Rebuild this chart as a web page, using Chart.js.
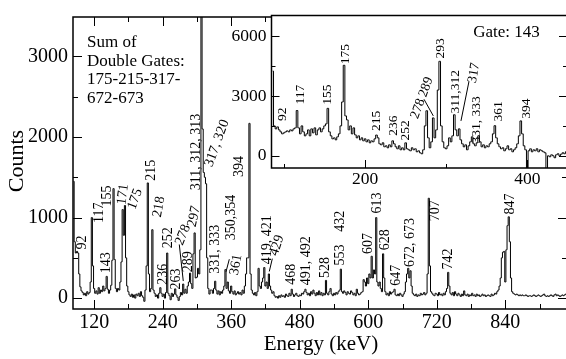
<!DOCTYPE html>
<html>
<head>
<meta charset="utf-8">
<script src="https://cdn.jsdelivr.net/npm/chart.js@4.4.0/dist/chart.umd.min.js"></script>
<style>
html, body { margin: 0; padding: 0; background: #fff; overflow: hidden; width: 566px; height: 359px; }
#wrap { position: relative; width: 572px; height: 359px; }
#mainChart { position: absolute; left: 0; top: 0; }
#insetChart { position: absolute; left: 220px; top: 0; }
</style>
</head>
<body>
<div id="wrap">
  <canvas id="mainChart" width="572" height="359"></canvas>
  <canvas id="insetChart" width="352" height="190"></canvas>
</div>
<script>
var FONT = '"Liberation Serif", "Times New Roman", serif';

// main spectrum: sum of double gates, 2 keV bins starting at 84 keV
var mainStart = 84, mainBin = 2;
var mainCounts = [
  1450, 700, 560, 580, 560, 300, 140, 90, 70, 40,
  60, 30, 80, 50, 70, 200, 1000, 400, 120, 60,
  90, 50, 130, 60, 100, 80, 150, 90, 120, 270,
  110, 60, 100, 160, 470, 1360, 480, 120, 80, 120,
  100, 200, 450, 1100, 780, 1150, 500, 150, 80, 40,
  20, 50, 10, 40, 0, 50, 30, 60, 20, 80,
  30, 10, -40, 100, 400, 1430, 300, 80, 120, 850,
  100, 60, 20, 40, 0, 60, 130, 60, 20, 50,
  0, 70, 560, 60, 30, -20, 60, 20, 50, 115,
  40, 10, -30, 20, 70, 40, 175, 60, 110, 60,
  150, 200, 310, 180, 120, 550, 810, 250, 260, 370,
  300, 600, 4200, 2100, 1560, 1500, 1420, 500, 120, 50,
  100, 100, 60, 120, 210, 100, 50, 90, 40, 80,
  60, 100, 150, 355, 120, 200, 90, 60, 150, 80,
  50, 90, 40, 60, 80, 50, 70, 40, 100, 60,
  150, 300, 500, 500, 2170, 300, 100, 60, 40, 70,
  30, 80, 370, 150, 120, 200, 250, 380, 150, 200,
  120, 300, 150, 100, 60, 80, 30, 10, 20, 0,
  30, 10, 40, 20, 30, 10, 50, 30, 20, 60,
  30, 110, 50, 20, 40, 60, 30, 20, 40, 30,
  60, 50, 80, 110, 70, 40, 60, 30, 80, 50,
  100, 60, 30, 70, 40, 90, 40, 70, 30, 60,
  40, 220, 60, 40, 80, 120, 50, 30, 60, 40,
  70, 50, 80, 100, 360, 80, 60, 90, 70, 40,
  80, 60, 50, 90, 70, 40, 60, 30, 110, 60,
  40, 50, 70, 80, 230, 200, 150, 250, 180, 300,
  250, 520, 250, 350, 300, 1000, 200, 150, 200, 120,
  80, 550, 250, 80, 40, 60, 30, 80, 50, 70,
  80, 110, 40, 30, 50, 30, 60, 40, 20, 50,
  80, 200, 300, 370, 250, 340, 150, 60, 40, 30,
  50, 20, 40, 30, 60, 40, 50, 70, 40, 60,
  300, 1240, 400, 80, 60, 40, 30, 60, 50, 30,
  70, 40, 50, 30, 60, 40, 80, 120, 320, 150,
  60, 40, 70, 30, 80, 50, 30, 60, 40, 20,
  50, 30, 90, 40, 30, 50, 20, 40, 30, 60,
  30, 40, 20, 50, 30, 40, 20, 30, 50, 30,
  40, 20, 30, 40, 30, 20, 50, 30, 40, 60,
  50, 80, 100, 150, 250, 500, 570, 580, 200, 600,
  900, 1010, 700, 250, 80, 60, 50, 40, 50, 40,
  30, 40, 30, 40, 30, 30, 40, 30, 20, 30,
  30, 20, 30, 40, 30, 20, 30, 40, 30, 20,
  30, 40, 50, 30, 20, 30, 20, 30, 40, 30,
  20, 40, 50, 30, 40, 30, 20, 30, 40, 30,
  40, 50, 40
];

// inset spectrum: gate on 143 keV, 2 keV bins starting at 86 keV
var insetStart = 86, insetBin = 2;
var insetCounts = [
  4250, 1500, 1350, 1450, 1300, 1200, 1100, 1150, 1200, 1250,
  1200, 1300, 1250, 1350, 1400, 2270, 1400, 1100, 1500, 1200,
  1000, 1100, 1300, 1000, 1350, 1150, 1400, 1050, 1300, 1400,
  1200, 1350, 1500, 1600, 2380, 1200, 1000, 850, 900, 800,
  950, 1100, 1500, 2700, 4540, 2000, 1800, 1300, 1500, 1100,
  1400, 1050, 900, 1000, 800, 900, 750, 850, 700, 800,
  650, 750, 700, 850, 1040, 900, 600, 550, 650, 450,
  500, 400, 550, 450, 750, 600, 450, 350, 500, 300,
  400, 300, 650, 350, 300, 250, 400, 300, 350, 200,
  250, 150, 100, 300, 1500, 2260, 900, 400, 700, 1900,
  900, 1300, 3300, 4740, 1500, 700, 400, 350, 500, 900,
  700, 1000, 2060, 1300, 1000, 1350, 800, 600, 450, 550,
  300, 500, 700, 950, 600, 500, 650, 1000, 700, 450,
  550, 400, 500, 450, 600, 700, 1100, 1510, 900, 600,
  450, 350, 400, 250, 350, 500, 300, 350, 200, 300,
  400, 600, 1000, 1750, 1100, 500, 300, -700, 250, 350,
  200, 300, 250, 350, 200, 300, 250, 200, 150, -700,
  0, -50, 50, 0, -100, 50, 100, 0, 80, 150,
  100, 200
];

var mainXTicks = [120, 240, 360, 480, 600, 720, 840];
var mainXMinor = [180, 300, 420, 540, 660, 780, 900];
var mainYTicks = [0, 1000, 2000, 3000];
var mainYMinor = [500, 1500, 2500];
var insetXTicks = [200, 400];
var insetXMinor = [100, 300];
var insetYTicks = [0, 3000, 6000];
var insetYMinor = [1500, 4500];

// peak labels: text, energy, counts (label centre), rotation in degrees
var mainLabels = [
  ['92', 98.8, 690, -90], ['117', 128.5, 1061, -90], ['143', 140.8, 439, -90],
  ['155', 143.4, 1268, -90], ['171', 170.5, 1288, -82], ['175', 191.6, 1229, -70],
  ['215', 219.6, 1588, -90], ['218', 233.6, 1133, -80], ['236', 240.6, 295, -90],
  ['252', 249.3, 750, -90], ['263', 263.4, 236, -90], ['278', 275.6, 786, -68],
  ['289', 284.4, 451, -90], ['297', 294.9, 1013, -78], ['311, 312, 313', 298.4, 1815, -90],
  ['317, 320', 335.1, 1922, -70], ['394', 373.7, 1635, -90], ['331, 333', 331.6, 607, -90],
  ['350,354', 360.9, 1001, -90], ['361', 368.4, 415, -80], ['419, 421', 422.7, 726, -90],
  ['429', 440.2, 654, -72], ['468', 465.9, 295, -90], ['491, 492', 492.2, 463, -90],
  ['528', 524.3, 379, -90], ['553', 550.5, 535, -90], ['432', 550.5, 953, -90],
  ['607', 599.5, 678, -90], ['613', 616.2, 1181, -90], ['628', 629.3, 726, -90],
  ['647', 648.6, 283, -90], ['672, 673', 673.1, 690, -90], ['707', 716.9, 1085, -90],
  ['742', 739.6, 487, -90], ['847', 848.1, 1169, -90]
];
var mainLeaders = [
  [269.1, 666, 276.1, 212], [356.7, 483, 350.9, 327], [432, 490, 426.7, 331]
];
var insetLabels = [
  ['92', 98.1, 2080, -90], ['117', 120.6, 3072, -90], ['155', 153.6, 3072, -90],
  ['175', 176.2, 5104, -90], ['215', 214.3, 1749, -90], ['236', 234.7, 1513, -90],
  ['252', 249.2, 1276, -90], ['278', 265.2, 2363, -70], ['289', 275.1, 3450, -70],
  ['293', 292.3, 5388, -90], ['311,312', 310.8, 3214, -90], ['317', 334.3, 4159, -80],
  ['331, 333', 336.8, 1796, -90], ['361', 363.9, 2222, -90], ['394', 399.6, 2363, -90]
];
var insetLeaders = [
  [272.6, 2836, 284.1, 2000], [328.1, 3734, 318.2, 1749]
];

function toPoints(start, bin, counts) {
  return counts.map(function (c, i) { return { x: start + i * bin, y: c }; });
}

function framePlugin(cfg) {
  return {
    id: 'frame',
    beforeDraw: function (chart) {
      if (!cfg.fill) return;
      var a = chart.chartArea, ctx = chart.ctx;
      ctx.save();
      ctx.fillStyle = '#fff';
      ctx.fillRect(a.left, a.top, a.right - a.left, a.bottom - a.top);
      ctx.restore();
    },
    afterDraw: function (chart) {
      var ctx = chart.ctx, a = chart.chartArea;
      var xs = chart.scales.x, ys = chart.scales.y;
      ctx.save();
      ctx.strokeStyle = '#000';
      ctx.lineWidth = 1;
      ctx.beginPath();
      function xTick(v, len) {
        var px = Math.round(xs.getPixelForValue(v)) + 0.5;
        ctx.moveTo(px, a.bottom); ctx.lineTo(px, a.bottom - len);
        if (cfg.topTicks) { ctx.moveTo(px, a.top); ctx.lineTo(px, a.top + len); }
      }
      function yTick(v, len) {
        var py = Math.round(ys.getPixelForValue(v)) + 0.5;
        ctx.moveTo(a.left, py); ctx.lineTo(a.left + len, py);
        ctx.moveTo(a.right, py); ctx.lineTo(a.right - len, py);
      }
      cfg.xMajor.forEach(function (v) { xTick(v, cfg.major); });
      cfg.xMinor.forEach(function (v) { xTick(v, cfg.minor); });
      cfg.yMajor.forEach(function (v) { yTick(v, cfg.major); });
      cfg.yMinor.forEach(function (v) { yTick(v, cfg.minor); });
      ctx.stroke();

      // leader lines
      ctx.beginPath();
      cfg.leaders.forEach(function (l) {
        ctx.moveTo(xs.getPixelForValue(l[0]), ys.getPixelForValue(l[1]));
        ctx.lineTo(xs.getPixelForValue(l[2]), ys.getPixelForValue(l[3]));
      });
      ctx.stroke();

      ctx.lineWidth = 1.5;
      ctx.strokeRect(a.left, a.top, a.right - a.left, a.bottom - a.top);

      // peak labels
      ctx.fillStyle = '#000';
      ctx.font = cfg.labelSize + 'px ' + FONT;
      ctx.textAlign = 'center';
      ctx.textBaseline = 'middle';
      cfg.labels.forEach(function (l) {
        ctx.save();
        ctx.translate(xs.getPixelForValue(l[1]), ys.getPixelForValue(l[2]));
        ctx.rotate(l[3] * Math.PI / 180);
        ctx.fillText(l[0], 0, 0);
        ctx.restore();
      });
      if (cfg.extra) cfg.extra(ctx, a);
      ctx.restore();
    }
  };
}

function plainTick(v) { return String(v); }

function axes(xMin, xMax, yMin, yMax, xTicks, yTicks, size, leftW, bottomH, pad) {
  return {
    x: {
      type: 'linear', min: xMin, max: xMax,
      grid: { display: false, drawTicks: false }, border: { display: false },
      afterBuildTicks: function (s) { s.ticks = xTicks.map(function (v) { return { value: v }; }); },
      afterFit: function (s) { s.height = bottomH; },
      ticks: { color: '#000', padding: pad, maxRotation: 0, callback: plainTick, font: { family: FONT, size: size } }
    },
    y: {
      type: 'linear', min: yMin, max: yMax,
      grid: { display: false, drawTicks: false }, border: { display: false },
      afterBuildTicks: function (s) { s.ticks = yTicks.map(function (v) { return { value: v }; }); },
      afterFit: function (s) { s.width = leftW; },
      ticks: { color: '#000', padding: 5, callback: plainTick, font: { family: FONT, size: size } }
    }
  };
}

function lineData(points) {
  return {
    datasets: [{
      data: points, stepped: 'middle', borderColor: '#000', borderWidth: 1,
      pointRadius: 0, fill: false, tension: 0
    }]
  };
}

new Chart(document.getElementById('mainChart'), {
  type: 'line',
  data: lineData(toPoints(mainStart, mainBin, mainCounts)),
  options: {
    responsive: false, animation: false,
    layout: { padding: { left: 0, top: 6, right: 5, bottom: 0 } },
    plugins: { legend: { display: false }, tooltip: { enabled: false } },
    scales: axes(83, 948, -135, 3490, mainXTicks, mainYTicks, 20, 73, 50, 2)
  },
  plugins: [framePlugin({
    fill: false, topTicks: true, major: 9, minor: 5,
    xMajor: mainXTicks, xMinor: mainXMinor, yMajor: mainYTicks, yMinor: mainYMinor,
    leaders: mainLeaders, labels: mainLabels, labelSize: 14,
    extra: function (ctx) {
      ctx.textAlign = 'left';
      ctx.font = '17px ' + FONT;
      ['Sum of', 'Double Gates:', '175-215-317-', '672-673'].forEach(function (t, i) {
        ctx.fillText(t, 87, 43 + i * 18.5);
      });
      ctx.textAlign = 'center';
      ctx.font = '21px ' + FONT;
      ctx.fillText('Energy (keV)', 321, 344);
      ctx.save();
      ctx.translate(17, 161);
      ctx.rotate(-Math.PI / 2);
      ctx.font = '22px ' + FONT;
      ctx.fillText('Counts', 0, 0);
      ctx.restore();
    }
  })]
});

new Chart(document.getElementById('insetChart'), {
  type: 'line',
  data: lineData(toPoints(insetStart, insetBin, insetCounts)),
  options: {
    responsive: false, animation: false,
    layout: { padding: { left: 0, top: 6, right: 5, bottom: 0 } },
    plugins: { legend: { display: false }, tooltip: { enabled: false } },
    scales: axes(84.5, 449, -614, 7040, insetXTicks, insetYTicks, 17.5, 51.5, 22, 1)
  },
  plugins: [framePlugin({
    fill: true, topTicks: false, major: 8, minor: 4,
    xMajor: insetXTicks, xMinor: insetXMinor, yMajor: insetYTicks, yMinor: insetYMinor,
    leaders: insetLeaders, labels: insetLabels, labelSize: 13.5,
    extra: function (ctx) {
      ctx.textAlign = 'center';
      ctx.font = '17px ' + FONT;
      ctx.fillText('Gate: 143', 286.5, 33);
    }
  })]
});
</script>
</body>
</html>
